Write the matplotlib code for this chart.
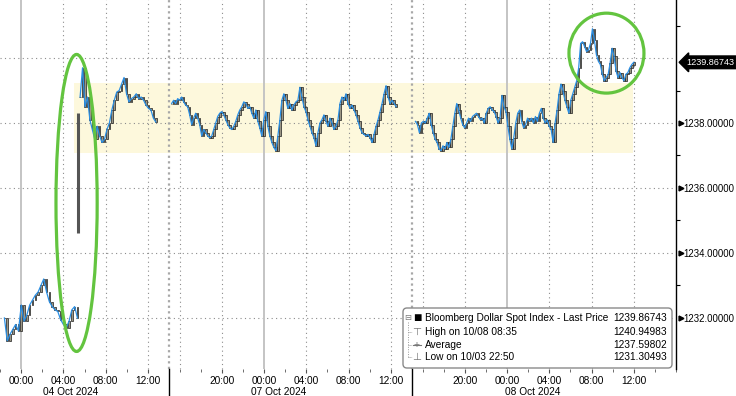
import matplotlib
matplotlib.use("Agg")
import matplotlib.pyplot as plt
import numpy as np
import pandas as pd
from matplotlib.patches import Ellipse, FancyBboxPatch, Rectangle
from matplotlib.transforms import Affine2D, blended_transform_factory

plt.rcParams["font.family"] = ["Liberation Sans", "DejaVu Sans"]

# ---- data (Bloomberg Dollar Spot Index, ~10 min closes) ----
seg1a_start, seg1a_end = "2024-10-03 22:25", "2024-10-04 05:20"
seg1a = [1232.0, 1231.3, 1231.5, 1231.65, 1231.8, 1231.6, 1232.4, 1231.9, 1232.1,
         1232.4, 1232.55, 1232.7, 1232.8, 1233.0, 1233.2, 1232.8, 1232.5, 1232.35,
         1232.25, 1232.2, 1231.95, 1231.8, 1231.7, 1231.9, 1232.25, 1232.35, 1232.0]

spike_time = "2024-10-04 05:25"
spike_low, spike_high = 1234.6, 1238.3

seg1b_start, seg1b_end = "2024-10-04 05:35", "2024-10-04 12:45"
seg1b = [1238.8, 1239.7, 1238.5, 1238.8, 1238.1, 1237.8, 1237.5, 1237.9, 1237.6,
         1237.4, 1237.5, 1237.8, 1238.0, 1238.4, 1238.7, 1238.95, 1239.0, 1239.2,
         1239.4, 1238.9, 1238.65, 1238.75, 1238.8, 1238.9, 1238.75, 1238.8, 1238.7,
         1238.55, 1238.45, 1238.4, 1238.15, 1238.03]

seg2_start, seg2_end = "2024-10-06 15:15", "2024-10-07 12:30"
seg2 = [1238.6, 1238.7, 1238.6, 1238.75, 1238.7, 1238.8, 1238.65, 1238.55, 1238.5,
        1238.25, 1237.95, 1238.15, 1238.3, 1238.15, 1237.95, 1237.6, 1237.8, 1237.7,
        1237.6, 1237.55, 1237.6, 1237.8, 1238.0, 1238.2, 1238.3, 1238.35, 1238.25,
        1238.1, 1237.95, 1237.85, 1237.8, 1237.9, 1238.05, 1238.25, 1238.4, 1238.5,
        1238.65, 1238.6, 1238.45, 1238.5, 1238.3, 1238.15, 1238.4, 1238.05, 1237.85,
        1237.6, 1238.1, 1238.35, 1237.9, 1237.6, 1237.4, 1237.25, 1237.15, 1237.6,
        1238.1, 1238.7, 1238.9, 1238.7, 1238.45, 1238.6, 1238.4, 1238.55, 1238.65,
        1238.7, 1239.1, 1238.8, 1238.5, 1238.35, 1238.1, 1237.9, 1237.7, 1237.55,
        1237.3, 1237.7, 1238.0, 1238.1, 1238.25, 1238.05, 1237.9, 1238.15, 1238.0,
        1237.8, 1237.9, 1238.1, 1238.6, 1238.8, 1238.7, 1238.9, 1238.6, 1238.45,
        1238.55, 1238.4, 1238.25, 1238.05, 1237.85, 1237.7, 1237.65, 1237.6, 1237.65,
        1237.55, 1237.4, 1237.65, 1237.9, 1238.1, 1238.35, 1238.6, 1238.9, 1239.15,
        1238.8, 1238.6, 1238.7, 1238.6, 1238.5]

seg3_start, seg3_end = "2024-10-07 15:20", "2024-10-08 12:00"
seg3 = [1238.05, 1237.95, 1237.7, 1238.0, 1238.05, 1238.0, 1238.15, 1238.3, 1237.95,
        1237.7, 1237.5, 1237.4, 1237.2, 1237.15, 1237.3, 1237.2, 1237.4, 1237.25,
        1237.5, 1237.9, 1238.3, 1238.6, 1238.4, 1238.15, 1237.95, 1237.85, 1238.0,
        1238.15, 1238.05, 1238.2, 1238.25, 1238.3, 1238.2, 1238.1, 1238.15, 1238.0,
        1238.3, 1238.45, 1238.5, 1238.4, 1238.35, 1238.2, 1238.0, 1238.15, 1238.85,
        1238.5, 1238.35, 1237.9, 1237.5, 1237.2, 1237.55, 1238.0, 1238.3, 1238.4,
        1238.05, 1237.85, 1237.95, 1238.15, 1238.05, 1238.15, 1238.0, 1238.2, 1238.05,
        1238.3, 1238.45, 1238.15, 1238.0, 1238.1, 1237.9, 1237.8, 1237.4, 1238.0,
        1238.4, 1238.9, 1239.2, 1239.0, 1238.7, 1238.5, 1238.3, 1238.7, 1238.9,
        1239.1, 1239.3, 1239.7, 1240.45, 1240.5, 1240.35, 1240.2, 1240.25, 1240.45,
        1240.9, 1240.55, 1240.1, 1239.9, 1239.8, 1239.5, 1239.3, 1239.4, 1239.5,
        1239.85, 1240.3, 1240.05, 1239.6, 1239.4, 1239.55, 1239.4, 1239.3, 1239.5,
        1239.55, 1239.7, 1239.8, 1239.86743]

last_price = 1239.86743
band_start, band_end = "2024-10-04 05:00", "2024-10-08 11:55"
band_low, band_high = 1237.08, 1239.23

major_times = ["2024-10-04 00:00", "2024-10-04 04:00", "2024-10-04 08:00", "2024-10-04 12:00",
               "2024-10-06 20:00", "2024-10-07 00:00", "2024-10-07 04:00", "2024-10-07 08:00",
               "2024-10-07 12:00", "2024-10-07 20:00", "2024-10-08 00:00", "2024-10-08 04:00",
               "2024-10-08 08:00", "2024-10-08 12:00"]
extra_grid_times = ["2024-10-06 16:00", "2024-10-07 16:00"]
day_labels = ["04 Oct 2024", "07 Oct 2024", "08 Oct 2024"]
day_label_times = ["2024-10-04 04:40", "2024-10-07 01:25", "2024-10-08 02:25"]
section_breaks = ["2024-10-04 14:00", "2024-10-07 15:00"]

legend_labels = ["Bloomberg Dollar Spot Index - Last Price", "High on 10/08 08:35",
                 "Average", "Low on 10/03 22:50"]
legend_values = ["1239.86743", "1240.94983", "1237.59802", "1231.30493"]


def to_axis(ts):
    # compressed time axis in hours (non-trading gaps removed, like Bloomberg)
    ts = pd.Timestamp(ts)
    h = (ts - pd.Timestamp("2024-10-04")).total_seconds() / 3600
    if ts < pd.Timestamp("2024-10-05"):
        return h
    if ts < pd.Timestamp("2024-10-07 15:00"):
        return h - 49
    return h - 50


BLUE = "#2a8fe4"
GREEN = "#63c43f"
FS = 7.3

fig = plt.figure(figsize=(7.36, 3.96), dpi=100)
ax = fig.add_axes([0, 27 / 396, 676 / 736, 369 / 396])
ax.set_xlim(-1.49, 61.57)
ax.set_ylim(1230.43, 1241.785)

# yellow band
b0, b1 = to_axis(band_start), to_axis(band_end)
ax.add_patch(Rectangle((b0, band_low), b1 - b0, band_high - band_low,
                       fc="#fdf8dc", ec="none", zorder=0))

# grid
dots = (0, (1, 3))
for v in [1232, 1234, 1236, 1238, 1240]:
    ax.axhline(v, color="#8c8c8c", lw=0.8, ls=dots, zorder=1)
for ts in major_times + extra_grid_times:
    t = to_axis(ts)
    if ts[11:] == "00:00":
        ax.axvline(t, color="#c4c4c4", lw=1.4, zorder=1)
    else:
        ax.axvline(t, color="#8c8c8c", lw=0.8, ls=dots, zorder=1)
bt = blended_transform_factory(ax.transData, ax.transAxes)
for ts in section_breaks:
    t = to_axis(ts)
    ax.axvline(t, color="#a8a8a8", lw=1.6, ls=(0, (1, 1.5)), zorder=1)
    ax.plot([t, t], [0, -0.08], transform=bt, color="black", lw=1, clip_on=False)

# candles + last price line
segments = [(seg1a_start, seg1a_end, seg1a), (seg1b_start, seg1b_end, seg1b),
            (seg2_start, seg2_end, seg2), (seg3_start, seg3_end, seg3)]
for start, end, vals in segments:
    vals = np.array(vals)
    times = pd.date_range(start, end, periods=len(vals))
    t = np.array([to_axis(x) for x in times])
    opens = np.r_[vals[0], vals[:-1]]
    ax.bar(t, vals - opens, bottom=opens, width=0.15, color="#9b9685",
           edgecolor="#1e1e1e", linewidth=0.5, zorder=3)
    ax.plot(t, vals, color=BLUE, lw=0.9, zorder=4)
ax.vlines(to_axis(spike_time), spike_low, spike_high, color="#555555", lw=2.2, zorder=3)

# green highlight ellipses
ax.add_patch(Ellipse((to_axis("2024-10-04 05:15"), 1235.54), 3.9, 9.14,
                     fill=False, ec=GREEN, lw=2.3, zorder=5))
ax.add_patch(Ellipse((to_axis("2024-10-08 09:25"), 1240.15), 7.1, 2.46,
                     fill=False, ec=GREEN, lw=2.3, zorder=5))

# axes styling
for s in ["top", "left", "bottom"]:
    ax.spines[s].set_visible(False)
ax.spines["right"].set_color("black")
ax.spines["right"].set_linewidth(1)

ax.yaxis.tick_right()
ax.set_yticks([1232, 1234, 1236, 1238])
ax.set_yticklabels([f"{v:.5f}" for v in [1232, 1234, 1236, 1238]])
ax.set_yticks([1233, 1235, 1237, 1239, 1241], minor=True)
ax.tick_params(axis="y", which="major", length=0, pad=5.5, labelsize=6.9, colors="black")
ax.tick_params(axis="y", which="minor", length=3, width=0.8, colors="black")
yt = blended_transform_factory(ax.transAxes, ax.transData)
ax.plot([1.0 + 4.5 / 676] * 4, [1232, 1234, 1236, 1238], transform=yt, ls="none",
        marker=">", ms=3.5, color="black", clip_on=False)

ax.set_xticks([to_axis(x) for x in major_times])
ax.set_xticklabels([x[11:16] for x in major_times])
minor = []
for a, b in [("2024-10-03 22:00", "2024-10-04 14:00"), ("2024-10-06 16:00", "2024-10-07 14:00"),
             ("2024-10-07 16:00", "2024-10-08 16:00")]:
    minor += [to_axis(x) for x in pd.date_range(a, b, freq="2h")]
ax.set_xticks(minor, minor=True)
ax.tick_params(axis="x", which="major", length=3, color="#555555", labelsize=FS, pad=2)
ax.tick_params(axis="x", which="minor", length=2, color="#555555")
for lab, ts in zip(day_labels, day_label_times):
    ax.text(to_axis(ts), -0.062, lab, transform=bt, ha="center", va="center", fontsize=FS)

# last price tag
ax.text(1.0 + 10 / 676, last_price, f"{last_price:.5f}", transform=yt, color="white",
        fontsize=6.6, va="center", ha="left", zorder=6,
        bbox=dict(boxstyle="larrow,pad=0.2", fc="black", ec="black"))

# legend box (pixel coords from top-left)
PX = Affine2D().scale(1 / 736, 1 / 396) + fig.transFigure
def py(y):
    return 396 - y
fig.patches.append(FancyBboxPatch((403, py(368)), 269, 60, boxstyle="round,pad=0,rounding_size=4",
                                  fc="white", ec="#8a8a8a", lw=1, transform=PX, zorder=10))
rows = [318, 332, 345, 357]
icons = ["\u25a0", "\u22a4", "+", "\u22a5"]
icon_colors = ["black", "#777777", "#777777", "#777777"]
fig.text(408, py(318), "\u229f", transform=PX, fontsize=6, color="#777777",
         ha="center", va="center", zorder=11)
fig.lines.append(plt.Line2D([408, 408], [py(322), py(357)], transform=PX, color="#999999",
                            lw=0.7, ls=(0, (1, 1.5)), zorder=11))
for i, (y, lab, val) in enumerate(zip(rows, legend_labels, legend_values)):
    if i > 0:
        fig.lines.append(plt.Line2D([408, 412], [py(y), py(y)], transform=PX, color="#999999",
                                    lw=0.7, ls=(0, (1, 1)), zorder=11))
    if i == 2:
        fig.lines.append(plt.Line2D([413, 421], [py(y), py(y)], transform=PX, color="#777777",
                                    lw=0.8, zorder=11))
    fig.text(417, py(y), icons[i], transform=PX, fontsize=7.5 if i else 10, color=icon_colors[i],
             ha="center", va="center", zorder=11)
    fig.text(425, py(y), lab, transform=PX, fontsize=FS, ha="left", va="center", zorder=11)
    fig.text(667, py(y), val, transform=PX, fontsize=FS, ha="right", va="center", zorder=11)

fig.savefig("out.png", dpi=100)
